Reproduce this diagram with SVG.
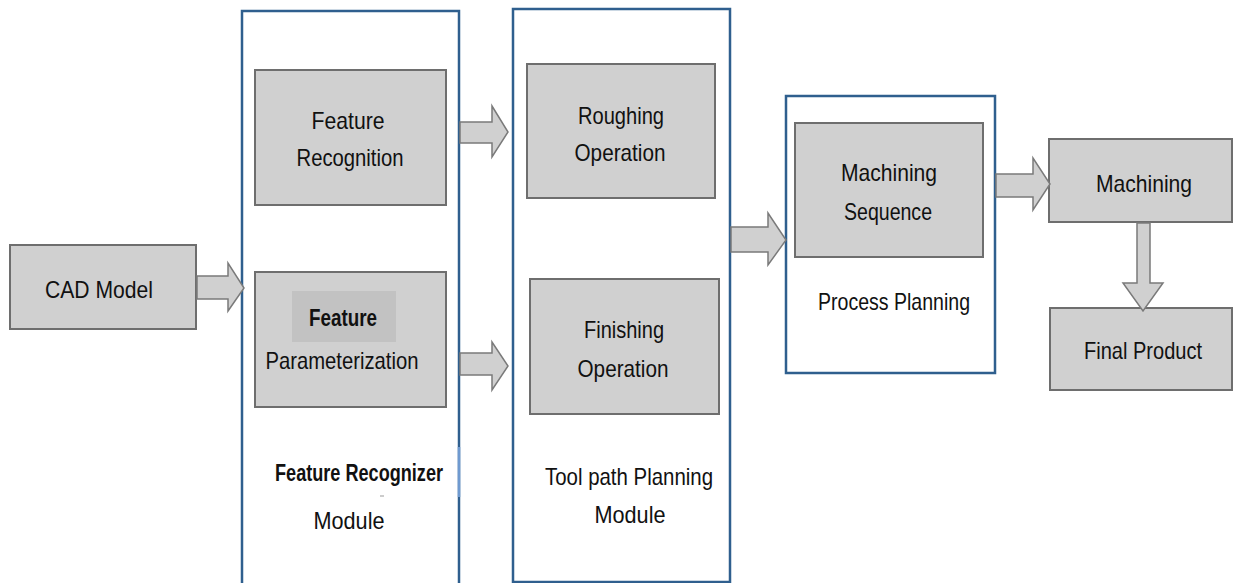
<svg xmlns="http://www.w3.org/2000/svg" width="1234" height="583" viewBox="0 0 1234 583">
<style>
.module{fill:#ffffff;stroke:#2f5f8e;stroke-width:2.5}
.box{fill:#d0d0d0;stroke:#6e6e6e;stroke-width:2}
.arrow{fill:#d0d0d0;stroke:#7a7a7a;stroke-width:1.5;stroke-linejoin:miter}
text{font-family:"Liberation Sans",Arial,sans-serif;font-size:24px;fill:#111;text-anchor:middle}
.b{font-weight:bold}
</style>
<rect width="1234" height="583" fill="#ffffff"/>
<g id="module-feature-recognizer">
<rect class="module" x="242" y="11" width="217" height="580"/>
<line x1="459" y1="447" x2="459" y2="497" stroke="#6f9ad0" stroke-width="2.5"/>
<text class="b" x="359" y="481" textLength="168" lengthAdjust="spacingAndGlyphs">Feature  Recognizer</text>
<line x1="380" y1="496" x2="384" y2="496" stroke="#999" stroke-width="1"/>
<text x="349" y="529" textLength="71" lengthAdjust="spacingAndGlyphs">Module</text>
</g>
<g id="module-tool-path">
<rect class="module" x="513" y="9" width="217" height="573"/>
<text x="629" y="485" textLength="168" lengthAdjust="spacingAndGlyphs">Tool path Planning</text>
<text x="630" y="523" textLength="71" lengthAdjust="spacingAndGlyphs">Module</text>
</g>
<g id="module-process-planning">
<rect class="module" x="786" y="96" width="209" height="277"/>
<text x="894" y="310" textLength="152" lengthAdjust="spacingAndGlyphs">Process Planning</text>
</g>
<g id="cad-model">
<rect class="box" x="10" y="245" width="186" height="84"/>
<text x="99" y="298" textLength="108" lengthAdjust="spacingAndGlyphs">CAD Model</text>
</g>
<g id="feature-recognition">
<rect class="box" x="255" y="70" width="191" height="135"/>
<text x="348" y="129" textLength="73" lengthAdjust="spacingAndGlyphs">Feature</text>
<text x="350" y="166" textLength="107" lengthAdjust="spacingAndGlyphs">Recognition</text>
</g>
<g id="feature-parameterization">
<rect class="box" x="255" y="272" width="191" height="135"/>
<rect x="292" y="291" width="104" height="51" fill="#c2c2c2"/>
<text class="b" x="343" y="326" textLength="68" lengthAdjust="spacingAndGlyphs">Feature</text>
<text x="342" y="369" textLength="153" lengthAdjust="spacingAndGlyphs">Parameterization</text>
</g>
<g id="roughing-operation">
<rect class="box" x="527" y="64" width="188" height="134"/>
<text x="621" y="124" textLength="86" lengthAdjust="spacingAndGlyphs">Roughing</text>
<text x="620" y="161" textLength="91" lengthAdjust="spacingAndGlyphs">Operation</text>
</g>
<g id="finishing-operation">
<rect class="box" x="530" y="279" width="189" height="135"/>
<text x="624" y="338" textLength="80" lengthAdjust="spacingAndGlyphs">Finishing</text>
<text x="623" y="377" textLength="91" lengthAdjust="spacingAndGlyphs">Operation</text>
</g>
<g id="machining-sequence">
<rect class="box" x="795" y="123" width="188" height="134"/>
<text x="889" y="181" textLength="96" lengthAdjust="spacingAndGlyphs">Machining</text>
<text x="888" y="220" textLength="88" lengthAdjust="spacingAndGlyphs">Sequence</text>
</g>
<g id="machining">
<rect class="box" x="1049" y="139" width="183" height="83"/>
<text x="1144" y="192" textLength="96" lengthAdjust="spacingAndGlyphs">Machining</text>
</g>
<g id="final-product">
<rect class="box" x="1050" y="308" width="182" height="82"/>
<text x="1143" y="359" textLength="118" lengthAdjust="spacingAndGlyphs">Final Product</text>
</g>
<g id="connectors">
<path class="arrow" d="M197,276 H228 V263 L244,288 L228,311 V299 H197 Z"/>
<path class="arrow" d="M460,122 H492 V106 L508,132 L492,157 V143 H460 Z"/>
<path class="arrow" d="M460,353 H492 V342 L508,366 L492,390 V375 H460 Z"/>
<path class="arrow" d="M731,227 H768 V213 L786,240 L768,265 V252 H731 Z"/>
<path class="arrow" d="M996,174 H1033 V158 L1050,184 L1033,210 V197 H996 Z"/>
<path class="arrow" d="M1137,223 V283 H1123 L1143,311 L1163,283 H1150 V223 Z"/>
</g>
</svg>
